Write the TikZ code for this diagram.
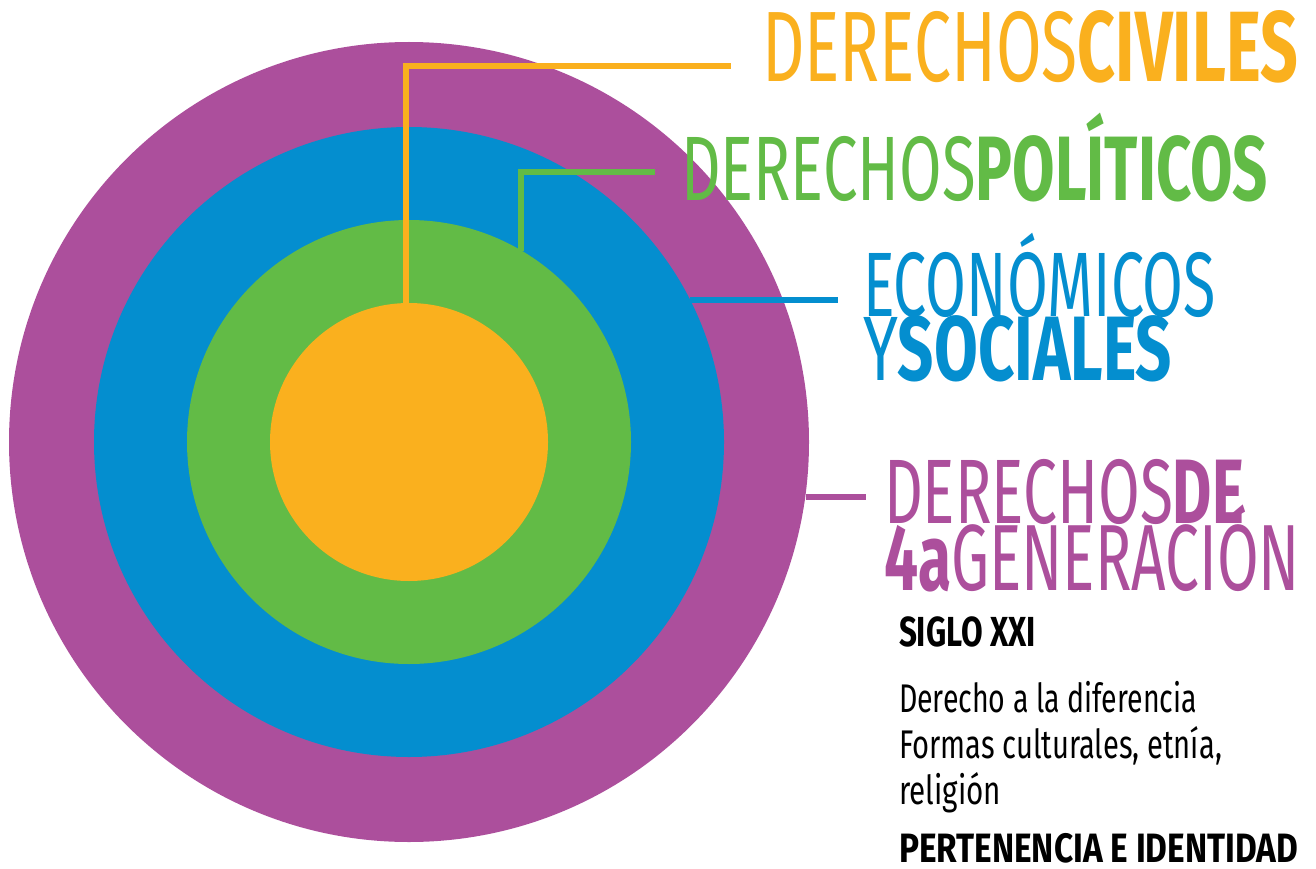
\documentclass[tikz,border=0pt]{standalone}
\usepackage{fontspec}
\setmainfont{Fira Sans}
\usepackage{graphicx}
\usetikzlibrary{calc}
\definecolor{cpur}{HTML}{AC4F9C}
\definecolor{cblu}{HTML}{048ECF}
\definecolor{cgrn}{HTML}{62BB46}
\definecolor{cora}{HTML}{FAB01E}
\newcommand\fitlbl[3]{\resizebox{#1pt}{\height}{\fontsize{#2}{#2}\selectfont #3}}
\begin{document}
\begin{tikzpicture}[x=1pt,y=-1pt,
  ring/.style={circle,inner sep=0pt,outer sep=0pt,minimum size=#1},
  lbl/.style={anchor=base west,inner sep=0pt,outer sep=0pt},
  conn/.style={line width=6pt}]
\useasboundingbox (0,0) rectangle (1316,869);
% circles
\node[ring=800pt,fill=cpur] (purple) at (409,442) {};
\node[ring=630pt,fill=cblu] (blue) at (409,442) {};
\node[ring=444pt,fill=cgrn] (green) at (409,442) {};
\node[ring=278pt,fill=cora] (orange) at (409,442) {};
% labels
\node[lbl,text=cora] (civ) at (762,82) {\fitlbl{536}{100}{DERECHOS\textbf{CIVILES}}};
\node[lbl,text=cgrn] (pol) at (681,200) {\fitlbl{587}{91.5}{DERECHOS\textbf{POLÍTICOS}}};
\node[lbl,text=cblu] (eco) at (863,316) {\fitlbl{353}{91.5}{ECONÓMICOS}};
\node[lbl,text=cblu] (soc) at (863,380) {\fitlbl{309}{91.5}{Y\textbf{SOCIALES}}};
\node[lbl,text=cpur] (der) at (884,523) {\fitlbl{360}{91.5}{DERECHOS\textbf{DE}}};
\node[lbl,text=cpur] (gen) at (884,590) {\fitlbl{416}{94}{\textbf{4a}GENERACIÓN}};
\node[lbl] (siglo) at (899,646) {\fitlbl{137}{42}{\textbf{SIGLO XXI}}};
\node[lbl] (l1) at (899,712) {\fitlbl{298}{40}{Derecho a la diferencia}};
\node[lbl] (l2) at (899,758) {\fitlbl{323}{40}{Formas culturales, etnía,}};
\node[lbl] (l3) at (899,804) {\fitlbl{102}{40}{religión}};
\node[lbl] (l4) at (899,862) {\fitlbl{399}{41}{\textbf{PERTENENCIA E IDENTIDAD}}};
% connectors
\coordinate (cEnd) at (731,66);
\coordinate (pEnd) at (655,172);
\coordinate (eEnd) at (838,300);
\coordinate (dEnd) at (866,497);
\draw[conn,cora] ($(orange.center)+(-3,-139)$) |- (cEnd);
\draw[conn,cgrn] ($(green.center)+(112,-191.5)$) |- (pEnd);
\draw[conn,cblu] ($(blue.center)+(281,-142)$) -- (eEnd);
\draw[conn,cpur] ($(purple.center)+(396.5,55)$) -- (dEnd);
\end{tikzpicture}
\end{document}
